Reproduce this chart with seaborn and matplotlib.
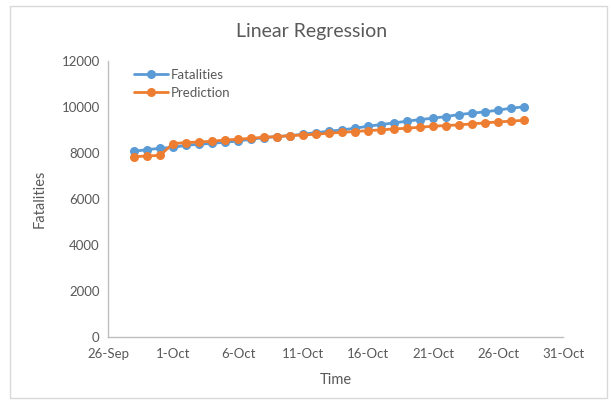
import matplotlib
matplotlib.use("Agg")
import matplotlib.pyplot as plt
import matplotlib.dates as mdates
from matplotlib.patches import Rectangle
import numpy as np
import pandas as pd
import seaborn as sns

# Daily observations, 28 Sep - 28 Oct
dates = pd.date_range("2020-09-28", "2020-10-28", freq="D")
fatalities = [8073, 8145, 8204, 8247, 8335, 8378, 8422, 8465, 8524, 8596,
              8669, 8713, 8756, 8815, 8887, 8945, 9004, 9076, 9164, 9236,
              9309, 9382, 9455, 9513, 9585, 9673, 9731, 9789, 9862, 9949,
              10007]
prediction = [7840, 7869, 7898, 8407, 8451, 8480, 8509, 8567, 8596, 8640,
              8684, 8713, 8756, 8785, 8815, 8858, 8902, 8931, 8975, 9004,
              9047, 9076, 9120, 9164, 9193, 9222, 9265, 9309, 9353, 9382,
              9425]
series_names = ["Fatalities", "Prediction"]
colors = ["#5B9BD5", "#ED7D31"]
y_ticks = [0, 2000, 4000, 6000, 8000, 10000, 12000]

df = pd.DataFrame({
    "Time": np.concatenate([dates, dates]),
    "value": fatalities + prediction,
    "series": [series_names[0]] * len(dates) + [series_names[1]] * len(dates),
})

sns.set_theme(style="white")
plt.rcParams["font.family"] = ["Lato", "DejaVu Sans"]

fig = plt.figure(figsize=(6.11, 4.01), dpi=100)
ax = fig.add_axes([108 / 611, 1 - 337 / 401, (563 - 108) / 611, (337 - 61) / 401])

sns.lineplot(data=df, x="Time", y="value", hue="series", palette=colors,
             marker="o", markersize=6.5, markeredgewidth=0, linewidth=2,
             ax=ax)

# Outer chart border
fig.patches.append(Rectangle((10 / 611, 1 - 398 / 401), 597 / 611, 392 / 401,
                             transform=fig.transFigure, fill=False,
                             edgecolor="#D9D9D9", linewidth=1))

tick_color = "#595959"
ax.set_ylim(0, 12000)
ax.set_yticks(y_ticks)
ax.set_xlim(pd.Timestamp("2020-09-26"), pd.Timestamp("2020-10-31"))
ax.set_xticks(pd.date_range("2020-09-26", "2020-10-31", freq="5D"))
ax.xaxis.set_major_formatter(mdates.DateFormatter("%-d-%b"))
ax.tick_params(axis="both", colors=tick_color, labelsize=9.5, length=0, pad=6)
ax.tick_params(axis="x", pad=8)

for side in ["top", "right"]:
    ax.spines[side].set_visible(False)
for side in ["left", "bottom"]:
    ax.spines[side].set_color("#BFBFBF")
    ax.spines[side].set_linewidth(1)

ax.set_xlabel("Time", color=tick_color, fontsize=10.5, labelpad=9)
ax.set_ylabel("Fatalities", color=tick_color, fontsize=10.5, labelpad=11)
fig.text(312 / 611, 1 - 31 / 401, "Linear Regression", ha="center",
         va="center", fontsize=14, color=tick_color)

leg = ax.legend(loc="upper left", bbox_to_anchor=(0.04, 1.0), frameon=False,
                fontsize=9.5, handlelength=2.6, handletextpad=0.2,
                labelspacing=0.45, borderaxespad=0.2)
for t in leg.get_texts():
    t.set_color(tick_color)

fig.savefig("out.png", dpi=100, facecolor="white")
